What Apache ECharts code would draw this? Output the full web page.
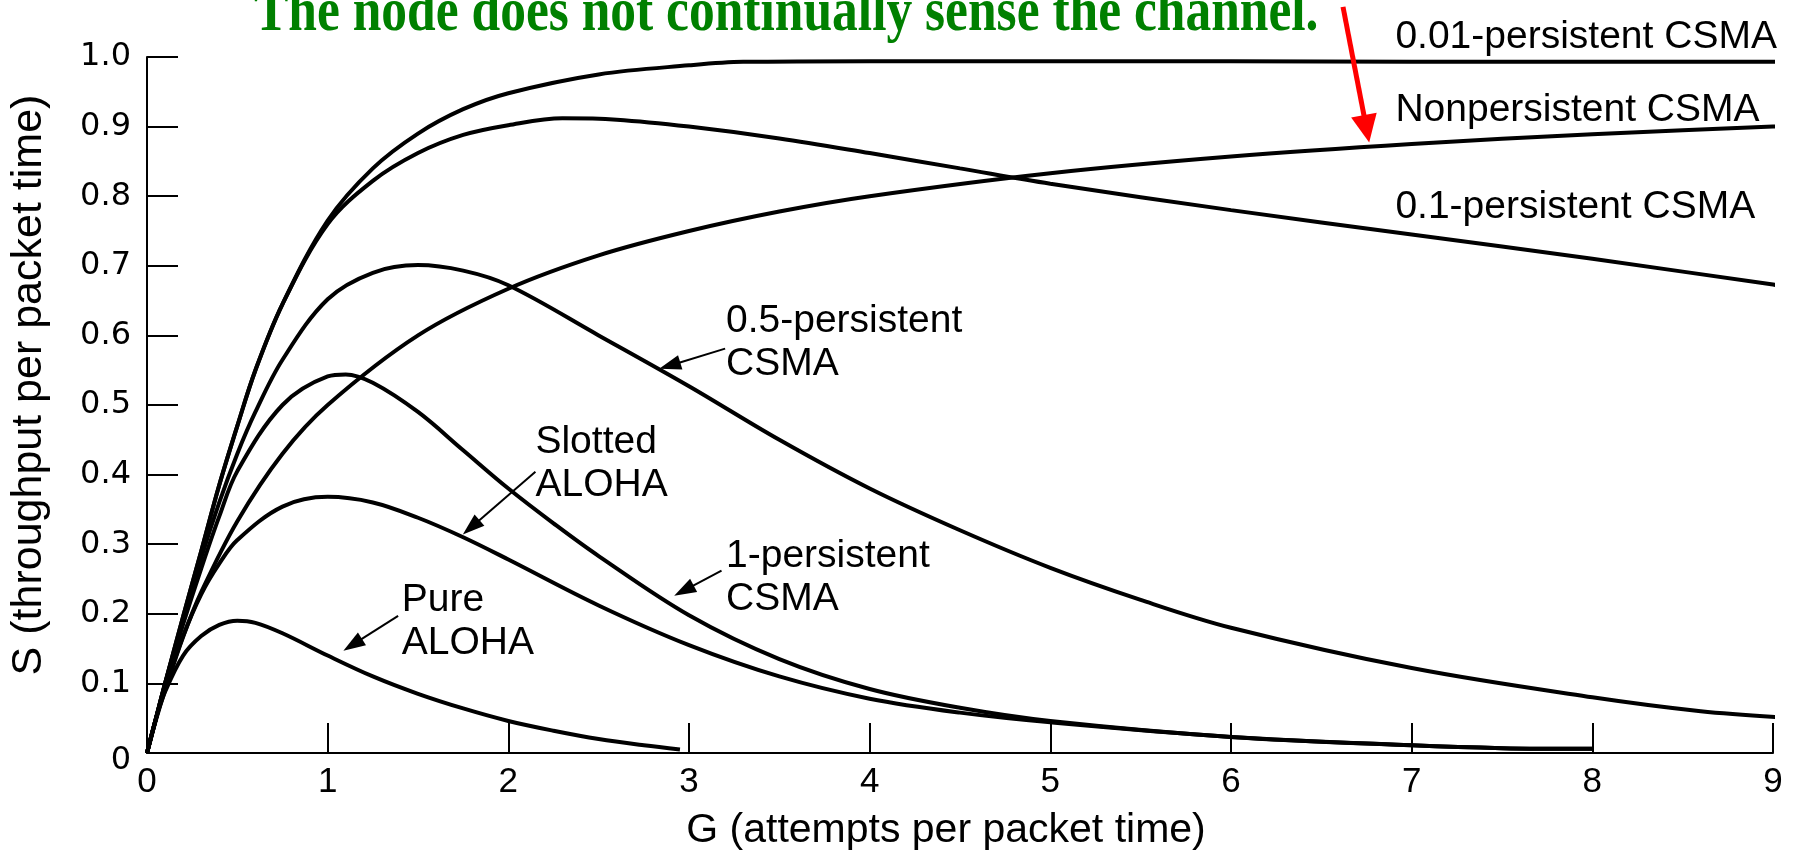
<!DOCTYPE html>
<html>
<head>
<meta charset="utf-8">
<title>Throughput versus offered load for random access protocols</title>
<script src="https://cdn.jsdelivr.net/npm/echarts@6/dist/echarts.min.js"></script>
<style>
  html, body { margin: 0; padding: 0; background: #ffffff; }
  #chart { width: 1796px; height: 856px; }
</style>
</head>
<body>
<div id="chart"></div>
<script>
// Axis ticks and labels
const xTickValues = [0, 1, 2, 3, 4, 5, 6, 7, 8, 9];
const yTickLabels = ['0', '0.1', '0.2', '0.3', '0.4', '0.5', '0.6', '0.7', '0.8', '0.9', '1.0'];

// Throughput S against offered load G, as [G, S] pairs
const pureAloha = [
  [0, 0], [0.05, 0.05], [0.1, 0.088], [0.2, 0.14], [0.3, 0.168], [0.4, 0.184], [0.5, 0.19],
  [0.6, 0.187], [0.75, 0.172], [1, 0.14], [1.25, 0.11], [1.5, 0.085], [1.75, 0.064],
  [2, 0.046], [2.25, 0.032], [2.5, 0.02], [2.75, 0.011], [2.95, 0.005]
];
const slottedAloha = [
  [0, 0], [0.05, 0.05], [0.1, 0.092], [0.2, 0.168], [0.3, 0.228], [0.4, 0.272], [0.5, 0.306],
  [0.75, 0.354], [1, 0.368], [1.25, 0.36], [1.5, 0.338], [1.75, 0.31], [2, 0.278],
  [2.5, 0.212], [3, 0.155], [3.5, 0.11], [4, 0.078], [4.5, 0.058], [5, 0.044],
  [6, 0.023], [7, 0.011], [7.5, 0.007], [8, 0.006]
];
const persistent1 = [
  [0, 0], [0.05, 0.05], [0.1, 0.098], [0.2, 0.185], [0.3, 0.265], [0.4, 0.34], [0.5, 0.405],
  [0.75, 0.5], [1, 0.541], [1.1, 0.544], [1.25, 0.532], [1.5, 0.49], [1.75, 0.435],
  [2, 0.38], [2.25, 0.33], [2.5, 0.283], [3, 0.198], [3.5, 0.135], [4, 0.092], [4.5, 0.065],
  [5, 0.046], [6, 0.023], [7, 0.011], [7.5, 0.007], [8, 0.006]
];
const persistent05 = [
  [0, 0], [0.05, 0.05], [0.1, 0.1], [0.2, 0.19], [0.3, 0.28], [0.4, 0.36], [0.5, 0.43],
  [0.6, 0.49], [0.75, 0.565], [1, 0.652], [1.25, 0.69], [1.5, 0.701], [1.75, 0.693],
  [2, 0.672], [2.5, 0.6], [3, 0.527], [3.5, 0.45], [4, 0.38], [4.5, 0.32], [5, 0.266],
  [5.5, 0.22], [6, 0.18], [7, 0.122], [8, 0.08], [8.6, 0.06], [9.07, 0.051]
];
const persistent01 = [
  [0, 0], [0.05, 0.05], [0.1, 0.1], [0.2, 0.196], [0.3, 0.29], [0.4, 0.385], [0.5, 0.47],
  [0.6, 0.55], [0.75, 0.645], [1, 0.76], [1.25, 0.822], [1.5, 0.862], [1.75, 0.888],
  [2, 0.902], [2.3, 0.912], [2.6, 0.91], [3, 0.9], [3.5, 0.883], [4, 0.862], [4.5, 0.84],
  [5, 0.818], [6, 0.78], [7, 0.745], [8, 0.71], [9, 0.673], [9.13, 0.668]
];
const persistent001 = [
  [0, 0], [0.05, 0.05], [0.1, 0.1], [0.2, 0.196], [0.3, 0.29], [0.4, 0.385], [0.5, 0.47],
  [0.6, 0.55], [0.75, 0.645], [1, 0.765], [1.25, 0.84], [1.5, 0.89], [1.75, 0.925],
  [2, 0.948], [2.5, 0.975], [3, 0.988], [3.3, 0.993], [4, 0.994], [5, 0.994], [6, 0.994],
  [7, 0.993], [8, 0.993], [9.05, 0.993]
];
const nonPersistent = [
  [0, 0], [0.05, 0.048], [0.1, 0.09], [0.2, 0.167], [0.3, 0.231], [0.5, 0.333], [0.75, 0.43],
  [1, 0.5], [1.5, 0.6], [2, 0.667], [2.5, 0.715], [3, 0.75], [3.5, 0.778], [4, 0.8],
  [5, 0.833], [6, 0.857], [7, 0.875], [8, 0.889], [9, 0.9], [9.13, 0.901]
];

const titleText = 'The node does not continually sense the channel.';
const xAxisTitle = 'G (attempts per packet time)';
const yAxisTitle = 'S (throughput per packet time)';

// Curve captions, anchored in data space [G, S] (left edge, vertical centre of each line)
const captions = [
  { lines: ['0.01-persistent CSMA'], at: [6.91, 1.028] },
  { lines: ['Nonpersistent CSMA'], at: [6.91, 0.923] },
  { lines: ['0.1-persistent CSMA'], at: [6.91, 0.784] },
  { lines: ['0.5-persistent', 'CSMA'], at: [3.205, 0.62] },
  { lines: ['Slotted', 'ALOHA'], at: [2.15, 0.446] },
  { lines: ['1-persistent', 'CSMA'], at: [3.205, 0.283] },
  { lines: ['Pure', 'ALOHA'], at: [1.41, 0.219] }
];
// Pointer arrows, from caption to curve, in data space
const pointers = [
  { from: [3.2, 0.581], to: [2.835, 0.552] },
  { from: [2.15, 0.404], to: [1.748, 0.314] },
  { from: [3.18, 0.262], to: [2.918, 0.226] },
  { from: [1.39, 0.197], to: [1.087, 0.147] }
];
const highlightPointer = { from: [6.62, 1.072], to: [6.765, 0.877] };

const sansFont = '"Liberation Sans", Arial, Helvetica, sans-serif';
const tickFont = '"DejaVu Sans", Verdana, sans-serif';

function curve(name, data) {
  return {
    name: name,
    type: 'line',
    data: data,
    showSymbol: false,
    smooth: 0.35,
    clip: false,
    lineStyle: { color: '#000000', width: 4 },
    emphasis: { disabled: true }
  };
}

const chart = echarts.init(document.getElementById('chart'), null, { renderer: 'canvas' });

const option = {
  animation: false,
  backgroundColor: '#ffffff',
  grid: { left: 141, right: 23, top: 57, bottom: 93, containLabel: false },
  xAxis: {
    type: 'value',
    min: 0,
    max: 9,
    interval: 1,
    name: xAxisTitle,
    nameLocation: 'middle',
    nameGap: 57,
    nameTextStyle: { fontFamily: sansFont, fontSize: 41, color: '#000000', padding: [0, 28, 0, 0] },
    axisLine: { show: true, onZero: false, lineStyle: { color: '#000000', width: 2 } },
    axisTick: { show: true, inside: true, length: 30, lineStyle: { color: '#000000', width: 2 } },
    axisLabel: {
      fontFamily: sansFont, fontSize: 35, color: '#000000', margin: 12,
      formatter: function (v) { return xTickValues.indexOf(v) >= 0 ? String(v) : ''; }
    },
    splitLine: { show: false }
  },
  yAxis: {
    type: 'value',
    min: 0,
    max: 1,
    interval: 0.1,
    name: yAxisTitle,
    nameLocation: 'middle',
    nameGap: 96,
    nameTextStyle: { fontFamily: sansFont, fontSize: 43, color: '#000000', padding: [0, 0, 0, 40] },
    axisLine: { show: true, onZero: false, lineStyle: { color: '#000000', width: 2 } },
    axisTick: { show: true, inside: true, length: 31, lineStyle: { color: '#000000', width: 2 } },
    axisLabel: {
      fontFamily: tickFont, fontSize: 32, color: '#000000', margin: 16,
      // the zero label sits a little below its tick and is drawn separately
      formatter: function (v) { return v === 0 ? '' : yTickLabels[Math.round(v * 10)]; }
    },
    splitLine: { show: false }
  },
  series: [
    curve('Pure ALOHA', pureAloha),
    curve('Slotted ALOHA', slottedAloha),
    curve('1-persistent CSMA', persistent1),
    curve('0.5-persistent CSMA', persistent05),
    curve('0.1-persistent CSMA', persistent01),
    curve('0.01-persistent CSMA', persistent001),
    curve('Nonpersistent CSMA', nonPersistent)
  ]
};

chart.setOption(option);

function px(pt) {
  return chart.convertToPixel({ xAxisIndex: 0, yAxisIndex: 0 }, pt);
}

function arrowShapes(from, to, color, width, headLen, headHalf) {
  const a = px(from), b = px(to);
  const dx = b[0] - a[0], dy = b[1] - a[1];
  const len = Math.sqrt(dx * dx + dy * dy);
  const ux = dx / len, uy = dy / len;
  const bx = b[0] - ux * headLen, by = b[1] - uy * headLen;
  return [
    {
      type: 'line', silent: true, z: 20,
      shape: { x1: a[0], y1: a[1], x2: bx + ux * 2, y2: by + uy * 2 },
      style: { stroke: color, lineWidth: width }
    },
    {
      type: 'polygon', silent: true, z: 20,
      shape: { points: [[b[0], b[1]], [bx - uy * headHalf, by + ux * headHalf], [bx + uy * headHalf, by - ux * headHalf]] },
      style: { fill: color }
    }
  ];
}

const graphics = [];

// Title line across the top, slightly tall-set
graphics.push({
  type: 'text', silent: true, z: 30,
  x: 254, y: 14,
  scaleX: 1, scaleY: 1.18,
  style: {
    text: titleText,
    font: 'bold 51.5px "Liberation Serif", "Times New Roman", serif',
    fill: '#008000',
    textAlign: 'left',
    textVerticalAlign: 'middle'
  }
});

// Zero label of the S axis
const origin = px([0, 0]);
graphics.push({
  type: 'text', silent: true, z: 30,
  x: origin[0] - 16, y: origin[1] + 8,
  style: {
    text: yTickLabels[0],
    font: '32px ' + tickFont,
    fill: '#000000',
    textAlign: 'right',
    textVerticalAlign: 'middle'
  }
});

// Curve captions
const lineStep = 0.062;
captions.forEach(function (c) {
  c.lines.forEach(function (t, i) {
    const p = px([c.at[0], c.at[1] - i * lineStep]);
    graphics.push({
      type: 'text', silent: true, z: 30,
      x: p[0], y: p[1],
      style: {
        text: t,
        font: '39px ' + sansFont,
        fill: '#000000',
        textAlign: 'left',
        textVerticalAlign: 'middle'
      }
    });
  });
});

pointers.forEach(function (a) {
  arrowShapes(a.from, a.to, '#000000', 2, 22, 7.5).forEach(function (g) { graphics.push(g); });
});
arrowShapes(highlightPointer.from, highlightPointer.to, '#ff0000', 5, 28, 13).forEach(function (g) { graphics.push(g); });

chart.setOption({ graphic: { elements: graphics } });
</script>
</body>
</html>
